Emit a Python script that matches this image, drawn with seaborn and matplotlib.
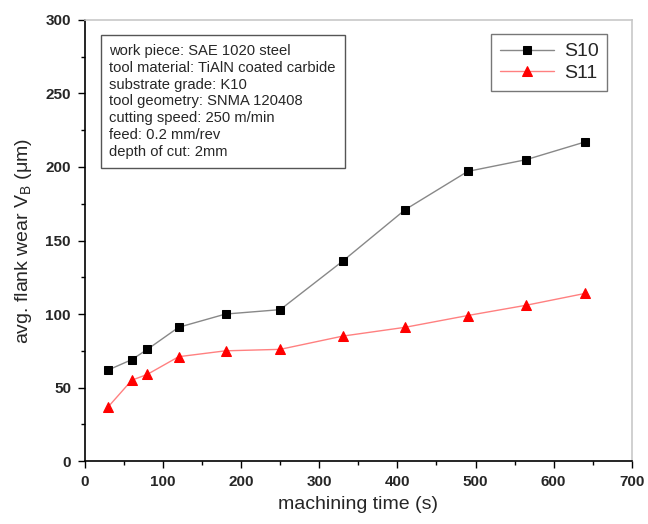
import pandas as pd
import matplotlib
matplotlib.use("Agg")
import matplotlib.pyplot as plt
import seaborn as sns
from matplotlib.ticker import MultipleLocator

# machining time (s) and flank wear (um)
time_s10 = [30, 60, 80, 120, 180, 250, 330, 410, 490, 565, 640]
wear_s10 = [62, 69, 76, 91, 100, 103, 136, 171, 197, 205, 217]
time_s11 = [30, 60, 80, 120, 180, 250, 330, 410, 490, 565, 640]
wear_s11 = [37, 55, 59, 71, 75, 76, 85, 91, 99, 106, 114]

conditions = [
    "work piece: SAE 1020 steel",
    "tool material: TiAlN coated carbide",
    "substrate grade: K10",
    "tool geometry: SNMA 120408",
    "cutting speed: 250 m/min",
    "feed: 0.2 mm/rev",
    "depth of cut: 2mm",
]

sns.set_style("ticks")
plt.rcParams["font.family"] = ["Liberation Sans", "DejaVu Sans"]
plt.rcParams["mathtext.fontset"] = "custom"
plt.rcParams["mathtext.rm"] = "Liberation Sans"

df10 = pd.DataFrame({"time": time_s10, "wear": wear_s10})
df11 = pd.DataFrame({"time": time_s11, "wear": wear_s11})

fig = plt.figure(figsize=(6.48, 5.24), dpi=100)
ax = fig.add_axes([0.131, 0.120, 0.844, 0.842])

# line colour differs from marker colour in the original
sns.lineplot(data=df10, x="time", y="wear", ax=ax, color="#888888", linewidth=1,
             marker="s", markersize=6, markerfacecolor="black", markeredgecolor="black",
             label="S10")
sns.lineplot(data=df11, x="time", y="wear", ax=ax, color="#ff8080", linewidth=1,
             marker="^", markersize=7, markerfacecolor="red", markeredgecolor="red",
             label="S11")

ax.set_xlim(0, 700)
ax.set_ylim(0, 300)
ax.xaxis.set_major_locator(MultipleLocator(100))
ax.xaxis.set_minor_locator(MultipleLocator(50))
ax.yaxis.set_major_locator(MultipleLocator(50))
ax.yaxis.set_minor_locator(MultipleLocator(25))
ax.tick_params(which="major", direction="out", length=5, width=1, labelsize=11,
               color="black", pad=5)
ax.tick_params(which="minor", direction="out", length=3, width=1, color="black")
for lab in ax.get_xticklabels() + ax.get_yticklabels():
    lab.set_fontweight("bold")

for side in ["left", "bottom"]:
    ax.spines[side].set_color("black")
    ax.spines[side].set_linewidth(1.2)
for side in ["top", "right"]:
    ax.spines[side].set_color("#c8c8c8")
    ax.spines[side].set_linewidth(1.2)

ax.set_xlabel("machining time (s)", fontsize=14, labelpad=5)
ax.set_ylabel(r"avg. flank wear V$_\mathregular{B}$ (μm)", fontsize=14, labelpad=8)

leg = ax.legend(loc="upper right", bbox_to_anchor=(0.955, 0.968), borderaxespad=0,
                fontsize=14, frameon=True, fancybox=False, edgecolor="#555555",
                handlelength=2.8, borderpad=0.45, labelspacing=0.2, handletextpad=0.5)
leg.get_frame().set_linewidth(1)

ax.text(0.045, 0.945, "\n".join(conditions), transform=ax.transAxes, fontsize=10.6,
        va="top", ha="left", linespacing=1.25,
        bbox=dict(boxstyle="square,pad=0.6", facecolor="white", edgecolor="#555555", linewidth=1))

fig.savefig("out.png", dpi=100)
